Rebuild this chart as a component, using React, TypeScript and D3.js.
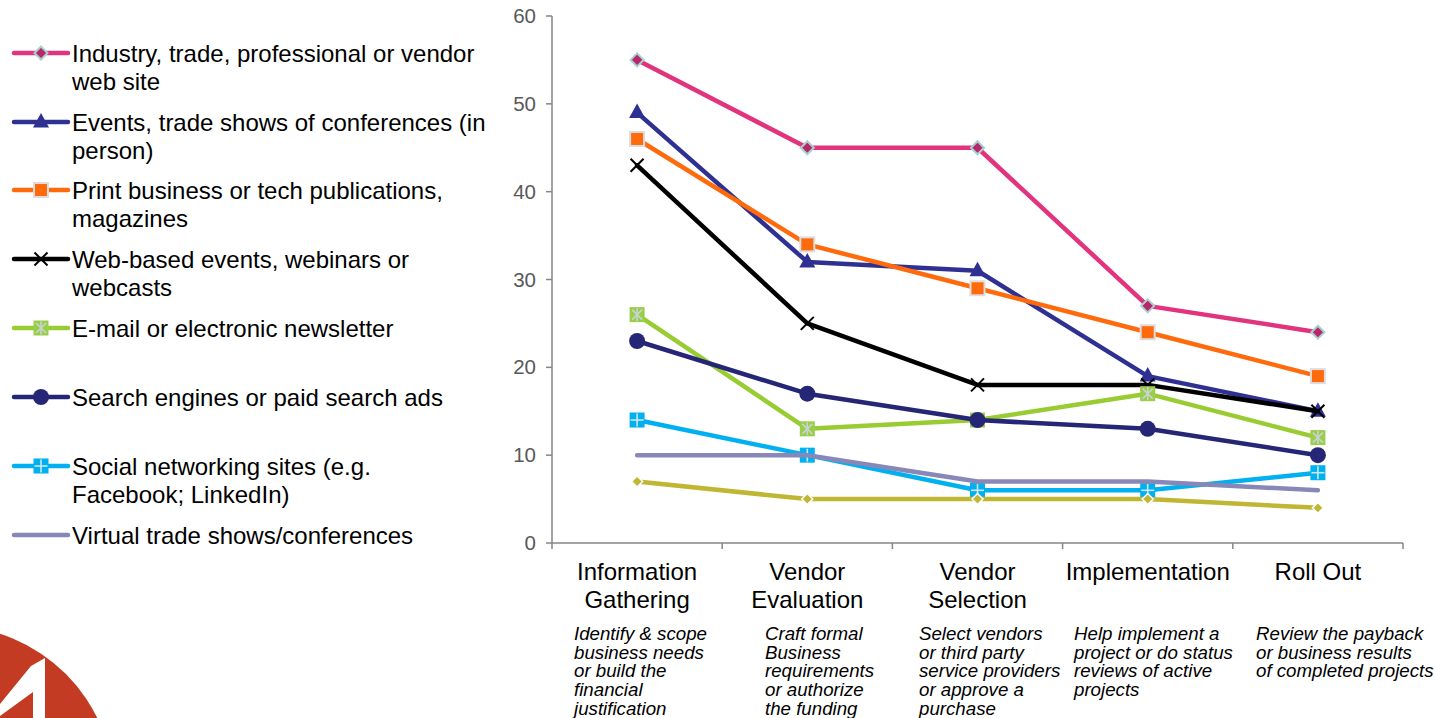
import React from "react";
import * as d3 from "d3";

const categories = ["Information Gathering", "Vendor Evaluation", "Vendor Selection", "Implementation", "Roll Out"];
const categoryLines = [["Information", "Gathering"], ["Vendor", "Evaluation"], ["Vendor", "Selection"], ["Implementation"], ["Roll Out"]];
const descriptions = [
  ["Identify & scope", "business needs", "or build the", "financial", "justification"],
  ["Craft formal", "Business", "requirements", "or authorize", "the funding"],
  ["Select vendors", "or third party", "service providers", "or approve a", "purchase"],
  ["Help implement a", "project or do status", "reviews of active", "projects"],
  ["Review the payback", "or business results", "of completed projects"],
];
const yTicks = [0, 10, 20, 30, 40, 50, 60];

const industry = [55, 45, 45, 27, 24];
const events = [49, 32, 31, 19, 15];
const print = [46, 34, 29, 24, 19];
const webBased = [43, 25, 18, 18, 15];
const email = [26, 13, 14, 17, 12];
const search = [23, 17, 14, 13, 10];
const social = [14, 10, 6, 6, 8];
const virtual = [10, 10, 7, 7, 6];
const other = [7, 5, 5, 5, 4];

type Series = { name: string[]; values: number[]; color: string; marker: string; legend: boolean };
const series: Series[] = [
  { name: ["Industry, trade, professional or vendor", "web site"], values: industry, color: "#E2337F", marker: "diamond", legend: true },
  { name: ["Events, trade shows of conferences (in", "person)"], values: events, color: "#2E3192", marker: "triangle", legend: true },
  { name: ["Print business or tech publications,", "magazines"], values: print, color: "#FF6A0D", marker: "square", legend: true },
  { name: ["Web-based events, webinars or", "webcasts"], values: webBased, color: "#000000", marker: "x", legend: true },
  { name: ["E-mail or electronic newsletter"], values: email, color: "#99CC33", marker: "star", legend: true },
  { name: ["Search engines or paid search ads"], values: search, color: "#262677", marker: "circle", legend: true },
  { name: ["Social networking sites (e.g.", "Facebook; LinkedIn)"], values: social, color: "#00B0F0", marker: "plus", legend: true },
  { name: ["Virtual trade shows/conferences"], values: virtual, color: "#8888B8", marker: "none", legend: true },
  { name: ["Other"], values: other, color: "#BFB733", marker: "smalldiamond", legend: false },
];

const legendY = [53, 122, 190, 259, 328, 397, 466, 535];

function Marker({ type, x, y, color }: { type: string; x: number; y: number; color: string }) {
  switch (type) {
    case "diamond":
      return <path d={`M${x},${y - 6.5}L${x + 6.5},${y}L${x},${y + 6.5}L${x - 6.5},${y}Z`} fill="#B5286A" stroke="#A9CFCF" strokeWidth={2} />;
    case "smalldiamond":
      return <path d={`M${x},${y - 5.5}L${x + 5.5},${y}L${x},${y + 5.5}L${x - 5.5},${y}Z`} fill={color} stroke="#ffffff" strokeWidth={1.5} />;
    case "triangle":
      return <path d={`M${x},${y - 9}L${x + 8},${y + 5.5}L${x - 8},${y + 5.5}Z`} fill={color} />;
    case "square":
      return <rect x={x - 7} y={y - 7} width={14} height={14} fill={color} stroke="#DDDDDD" strokeWidth={2} />;
    case "x":
      return (
        <g stroke="#000" strokeWidth={2}>
          <line x1={x - 6.5} y1={y - 6.5} x2={x + 6.5} y2={y + 6.5} />
          <line x1={x - 6.5} y1={y + 6.5} x2={x + 6.5} y2={y - 6.5} />
        </g>
      );
    case "star":
      return (
        <g>
          <rect x={x - 7.5} y={y - 7.5} width={15} height={15} fill="#9ACD4A" />
          <g stroke="#C8D4D4" strokeWidth={1.6}>
            <line x1={x - 5} y1={y - 5} x2={x + 5} y2={y + 5} />
            <line x1={x - 5} y1={y + 5} x2={x + 5} y2={y - 5} />
            <line x1={x} y1={y - 6.5} x2={x} y2={y + 6.5} />
          </g>
        </g>
      );
    case "circle":
      return <circle cx={x} cy={y} r={8} fill={color} />;
    case "plus":
      return (
        <g>
          <rect x={x - 7.5} y={y - 7.5} width={15} height={15} fill={color} />
          <g stroke="#CFE6EE" strokeWidth={1.6}>
            <line x1={x - 6.5} y1={y} x2={x + 6.5} y2={y} />
            <line x1={x} y1={y - 6.5} x2={x} y2={y + 6.5} />
          </g>
        </g>
      );
    default:
      return null;
  }
}

export default function App() {
  const W = 1436, H = 718;
  const x = d3.scaleBand<string>().domain(categories).range([552, 1403]).paddingInner(0).paddingOuter(0);
  const y = d3.scaleLinear().domain([0, 60]).range([543, 16]);
  const line = d3.line<number>().x((_, i) => (x(categories[i]) as number) + x.bandwidth() / 2).y((d) => y(d));
  const cx = (i: number) => (x(categories[i]) as number) + x.bandwidth() / 2;
  const font = "'Liberation Sans', Arial, sans-serif";
  const narrow = "'Liberation Sans Narrow', 'Arial Narrow', 'Liberation Sans', sans-serif";
  const xTicks = categories.map((c) => (x(c) as number) + x.bandwidth()).concat([552]);

  return (
    <svg width={W} height={H} style={{ position: "absolute", left: 0, top: 0, background: "#fff" }}>
      {/* logo */}
      <g>
        <circle cx={-50} cy={790} r={164} fill="#C23B22" />
        <path d="M0,704 L31,666 L45,658 L45,718 L33,718 L33,692 L0,716 Z" fill="#ffffff" />
      </g>

      {/* axes */}
      <g stroke="#868686" strokeWidth={1.5}>
        <line x1={552} y1={y(60)} x2={552} y2={y(0)} />
        <line x1={552} y1={y(0)} x2={1403} y2={y(0)} />
        {yTicks.map((t) => (
          <line key={t} x1={546} x2={552} y1={y(t)} y2={y(t)} />
        ))}
        {xTicks.map((t, i) => (
          <line key={i} x1={t} x2={t} y1={y(0)} y2={y(0) + 6} />
        ))}
      </g>
      {yTicks.map((t) => (
        <text key={t} x={536} y={y(t) + 7} textAnchor="end" fontFamily={font} fontSize={20.5} fill="#595959">
          {t}
        </text>
      ))}
      {categoryLines.map((ls, i) =>
        ls.map((l, j) => (
          <text key={i + "-" + j} x={cx(i)} y={580 + j * 27.5} textAnchor="middle" fontFamily={font} fontSize={24} fill="#000">
            {l}
          </text>
        ))
      )}
      {descriptions.map((ls, i) =>
        ls.map((l, j) => (
          <text key={i + "d" + j} x={[574, 765, 919, 1074, 1256][i]} y={640 + j * 18.7} fontFamily={narrow} fontStyle="italic" fontSize={18.7} fill="#000">
            {l}
          </text>
        ))
      )}

      {/* series */}
      {series.map((s, si) => (
        <g key={si}>
          <path d={line(s.values) || ""} fill="none" stroke={s.color} strokeWidth={4.5} strokeLinecap="round" strokeLinejoin="round" />
          {s.values.map((v, i) => (
            <Marker key={i} type={s.marker} x={cx(i)} y={y(v)} color={s.color} />
          ))}
        </g>
      ))}

      {/* legend */}
      {series.filter((s) => s.legend).map((s, i) => (
        <g key={i}>
          <line x1={14} x2={68} y1={legendY[i]} y2={legendY[i]} stroke={s.color} strokeWidth={4.5} strokeLinecap="round" />
          <Marker type={s.marker} x={41} y={legendY[i]} color={s.color} />
          {s.name.map((n, j) => (
            <text key={j} x={72} y={legendY[i] + 8.5 + j * 28} fontFamily={font} fontSize={24} fill="#000">
              {n}
            </text>
          ))}
        </g>
      ))}
    </svg>
  );
}
